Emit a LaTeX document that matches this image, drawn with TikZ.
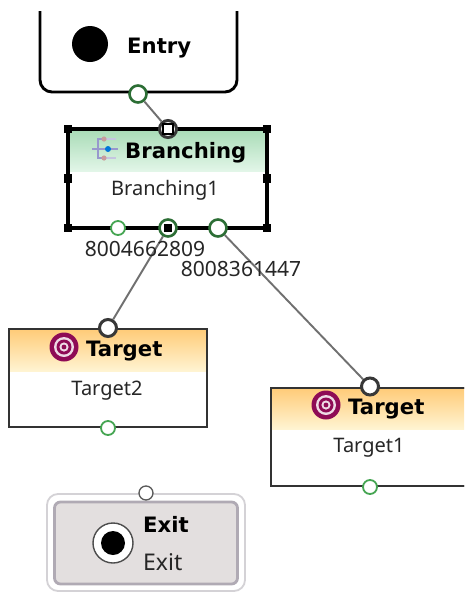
\documentclass[tikz,border=0pt]{standalone}
\usepackage{fontspec}
\setmainfont{Noto Sans}
\newfontfamily\titlefont{DejaVu Sans}
\usetikzlibrary{calc}
\definecolor{portgreen}{HTML}{45A552}
\definecolor{darkgreen}{HTML}{2C6E35}
\definecolor{targetred}{HTML}{8E0B55}
\definecolor{linegray}{HTML}{707070}
\definecolor{txtgray}{HTML}{262626}
\definecolor{greentop}{HTML}{A8DBB6}
\definecolor{greenbot}{HTML}{E2F6E8}
\definecolor{orangetop}{HTML}{FFCB78}
\definecolor{orangebot}{HTML}{FFF4D2}
\definecolor{exitfill}{HTML}{E3DFDF}
\definecolor{exitedge}{HTML}{B0AAB4}
\definecolor{exitouteredge}{HTML}{D4D2D6}
\tikzset{
  box/.style={draw=black!80,line width=2.1pt,fill=white,minimum width=198pt,minimum height=98pt,inner sep=0pt,outer sep=0pt,rectangle},
  selbox/.style={draw=black,line width=3.4pt,fill=white,minimum width=199pt,minimum height=99pt,inner sep=0pt,outer sep=0pt,rectangle},
  titletext/.style={font=\titlefont\bfseries\fontsize{21.2pt}{24pt}\selectfont,text=black,inner sep=0pt,anchor=base west},
  nametext/.style={font=\fontsize{20pt}{23pt}\selectfont,text=txtgray,inner sep=0pt,anchor=base},
  idtext/.style={font=\fontsize{21pt}{24pt}\selectfont,text=txtgray,inner sep=0pt,anchor=base},
  outport/.style={circle,draw=portgreen,line width=1.8pt,fill=white,minimum size=14pt,inner sep=0pt},
  strongport/.style={circle,draw=darkgreen,line width=2.6pt,fill=white,minimum size=17pt,inner sep=0pt},
  inport/.style={circle,draw=black!78,line width=3pt,fill=white,minimum size=17pt,inner sep=0pt},
  exitport/.style={circle,draw=black!65,line width=1.3pt,fill=white,minimum size=14pt,inner sep=0pt},
  handle/.style={rectangle,fill=black,minimum size=8.5pt,inner sep=0pt},
  conn/.style={draw=linegray,line width=1.9pt},
}
\newcommand{\targeticon}[2]{%
  \fill[targetred] (#1,#2) circle (14.5pt);
  \fill[white!85!targetred] (#1,#2) circle (10pt);
  \fill[targetred] (#1,#2) circle (7.5pt);
  \fill[white!85!targetred] (#1,#2) circle (4.6pt);
  \fill[targetred] (#1,#2) circle (2.4pt);
}
\begin{document}
\begin{tikzpicture}[x=1pt,y=-1pt]
\useasboundingbox (0,0) rectangle (464,592);
\clip (0,0) rectangle (464,592);
\fill[white] (0,0) rectangle (464,592);
% Entry
\draw[black,line width=2.9pt] (40,11) -- (40,80) arc[start angle=180,end angle=90,x radius=12pt,y radius=-12pt] -- (225,92) arc[start angle=90,end angle=0,x radius=12pt,y radius=-12pt] -- (237,11);
\fill[black] (90,44) circle (18pt);
\node[titletext] (entrytitle) at (127,53) {Entry};
% Branching
\node[selbox] (branch) at (167.5,178.5) {};
\shade[top color=greentop,bottom color=greenbot] (68,129) rectangle (267,171);
\draw[black,line width=3.4pt] (branch.north west) rectangle (branch.south east);
\begin{scope}[line width=1.1pt]
\draw[blue!35!gray!60] (92,149) -- (118,149);
\draw[blue!35!gray!60] (104,139) -- (98,139) -- (98,158) -- (104,158);
\draw[blue!30!gray!35] (104,139) -- (116,139) (104,158) -- (116,158);
\fill[red!30!gray!60] (104,139) circle (2.6pt) (104,158) circle (2.6pt);
\fill[blue!45!cyan!85!black] (108,149) circle (3pt);
\end{scope}
\node[titletext] (branchtitle) at (125,158) {Branching};
\node[nametext] (branchname) at (165,195) {Branching1};
% Targets
\node[box] (t2) at (108,378) {};
\shade[top color=orangetop,bottom color=orangebot] (9,329) rectangle (207,371);
\draw[black!80,line width=2.1pt] (t2.north west) rectangle (t2.south east);
\targeticon{64}{347}
\node[titletext] (t2title) at (86,356) {Target};
\node[nametext] (t2name) at (107,395) {Target2};
\node[box] (t1) at (370,437) {};
\shade[top color=orangetop,bottom color=orangebot] (271,388) rectangle (469,429);
\draw[black!80,line width=2.1pt] (t1.north west) rectangle (t1.south east);
\targeticon{326}{405}
\node[titletext] (t1title) at (348,414) {Target};
\node[nametext] (t1name) at (369,452) {Target1};
% Exit
\node[draw=exitouteredge,line width=1.8pt,rounded corners=11pt,fill=white,minimum width=198pt,minimum height=97pt,inner sep=0pt] (exitouter) at (146,542.5) {};
\node[draw=exitedge,line width=2.8pt,rounded corners=6pt,fill=exitfill,minimum width=183pt,minimum height=82pt,inner sep=0pt] (exitinner) at (146,543) {};
\node[circle,fill=white,draw=black!70,line width=1.4pt,minimum size=40pt,inner sep=0pt] (exitring) at (113,543) {};
\fill[black] (exitring.center) circle (12pt);
\node[titletext] (exittitle) at (143,532) {Exit};
\node[nametext,anchor=base west,font=\fontsize{23pt}{26pt}\selectfont] (exitname) at (143,570) {Exit};
% Ports
\node[outport,draw=darkgreen,line width=2.6pt,minimum size=17pt] (pentry) at (138,94) {};
\node[inport] (pbtop) at (168,129) {};
\node[outport] (pb1) at (118,228) {};
\node[strongport] (pb2) at (168,228) {};
\node[strongport] (pb3) at (218,228) {};
\node[inport] (pt2in) at (108,328) {};
\node[outport] (pt2out) at (108,428) {};
\node[inport] (pt1in) at (370,386.5) {};
\node[outport] (pt1out) at (370,487) {};
\node[exitport] (pexit) at (146,493) {};
% Handles
\foreach \a in {north west,north east,south west,south east,west,east}
  \node[handle] at (branch.\a) {};
\node[rectangle,draw=black,line width=2pt,fill=white,minimum size=9.5pt,inner sep=0pt] (htop) at (pbtop) {};
\node[handle,draw=white,line width=.8pt,minimum size=9.5pt] (hbot) at (pb2) {};
% Connectors
\draw[conn] (pentry) -- (pbtop);
\draw[conn] (pb2) -- (pt2in);
\draw[conn] (pb3) -- (pt1in);
% Labels
\node[idtext] (lab1) at (145,256) {8004662809};
\node[idtext] (lab2) at (241,276) {8008361447};
\end{tikzpicture}
\end{document}
